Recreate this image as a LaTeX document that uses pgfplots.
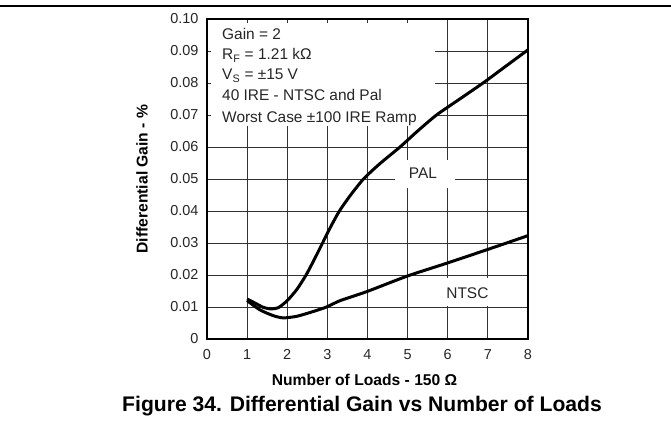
\documentclass[border=0pt]{standalone}
\usepackage{pgfplots}
\pgfplotsset{compat=1.18}
\usepackage{fontspec}
\setmainfont{Liberation Sans}
\newcommand\tl[1]{\mbox{\fontsize{14.5}{17}\selectfont #1}}
\begin{document}
\begin{tikzpicture}
\useasboundingbox (-207bp,-85bp) rectangle (464bp,339bp);
\draw[line width=1.1bp] (-207bp,333bp) -- (464bp,333bp);
\begin{axis}[
  at={(0bp,0bp)}, anchor=south west,
  scale only axis, width=321bp, height=320bp,
  xmin=0, xmax=8, ymin=0, ymax=0.1,
  xtick={0,1,2,3,4,5,6,7,8},
  xticklabels={\tl{0},\tl{1},\tl{2},\tl{3},\tl{4},\tl{5},\tl{6},\tl{7},\tl{8}},
  ytick={0,0.01,0.02,0.03,0.04,0.05,0.06,0.07,0.08,0.09,0.1},
  yticklabels={\tl{0},\tl{0.01},\tl{0.02},\tl{0.03},\tl{0.04},\tl{0.05},\tl{0.06},\tl{0.07},\tl{0.08},\tl{0.09},\tl{0.10}},
  scaled y ticks=false,
  grid=major,
  major grid style={line width=0.9bp, black!80},
  tick align=inside, major tick length=4bp,
  tick style={line width=0.9bp, black!80},
  axis line style={line width=1.6bp, black},
  yticklabel style={xshift=-5bp, text=black!85},
  xticklabel style={yshift=-7bp, text=black!85},
  xlabel={Number of Loads - 150 Ω},
  xlabel style={at={(axis description cs:0.4907,-0.128)}, anchor=center, font=\bfseries\fontsize{15.7}{18}\selectfont},
  ylabel={Differential Gain - \%},
  ylabel style={at={(axis description cs:-0.2025,0.5)}, anchor=center, font=\bfseries\fontsize{15.7}{18}\selectfont},
  title={Figure 34. Differential Gain vs Number of Loads},
  title style={at={(axis description cs:0.483,-0.2275)}, anchor=center, font=\bfseries\fontsize{21.2}{25}\selectfont},
]
\fill[white] (axis cs:0,0.1) rectangle (axis cs:5.68,0.0666);
\fill[white] (axis cs:4.685,0.0559) rectangle (axis cs:6.18,0.0472);
\fill[white] (axis cs:5.38,0.0191) rectangle (axis cs:7.35,0.0104);
% frame and ticks covered by the text box
\draw[line width=0.9bp, black!80]
  \foreach \t in {1,2,3,4,5} {(axis cs:\t,0.1) -- ++(0bp,-4bp)}
  \foreach \t in {0.07,0.08,0.09} {(axis cs:0,\t) -- ++(4bp,0bp)};
\draw[line width=1.6bp, black] (rel axis cs:0,0) rectangle (rel axis cs:1,1);
\addplot[black, line width=3bp, smooth, tension=0.4] coordinates {
(1,0.0125)(1.2,0.0112)(1.4,0.0099)(1.6,0.0094)(1.78,0.0098)(2.0,0.0120)
(2.24,0.0155)(2.47,0.0200)(2.68,0.0250)(2.88,0.0300)(3.08,0.0350)(3.30,0.0400)
(3.58,0.0450)(3.90,0.0500)(4.3,0.0547)(4.81,0.0600)(5.25,0.0650)(5.72,0.0700)
(6.3,0.0750)(6.88,0.0800)(7.42,0.0850)(7.96,0.0900)(8,0.0904)};
\addplot[black, line width=3bp, smooth, tension=0.4] coordinates {
(1,0.0120)(1.32,0.0091)(1.65,0.0073)(1.9,0.0066)(2.24,0.0071)(2.65,0.0086)
(2.98,0.0100)(3.32,0.0120)(3.98,0.0148)(5.0,0.0197)(5.98,0.0237)(7,0.0280)(8,0.0323)};
\begin{scope}[every node/.style={anchor=base west, inner sep=0pt, font=\fontsize{15.5}{18}\selectfont, text=black!85}]
\node at (axis cs:0.374,0.09344) {Gain = 2};
\node at (axis cs:0.374,0.08734) {R\textsubscript{F} = 1.21 kΩ};
\node at (axis cs:0.374,0.08094) {V\textsubscript{S} = ±15 V};
\node at (axis cs:0.374,0.0745) {40 IRE - NTSC and Pal};
\node at (axis cs:0.374,0.0675) {Worst Case ±100 IRE Ramp};
\end{scope}
\node[font=\fontsize{15.5}{18}\selectfont, text=black!85, inner sep=0pt] at (axis cs:5.38,0.0519) {PAL};
\node[font=\fontsize{15.5}{18}\selectfont, text=black!85, inner sep=0pt] at (axis cs:6.49,0.01447) {NTSC};
\end{axis}
\end{tikzpicture}
\end{document}
